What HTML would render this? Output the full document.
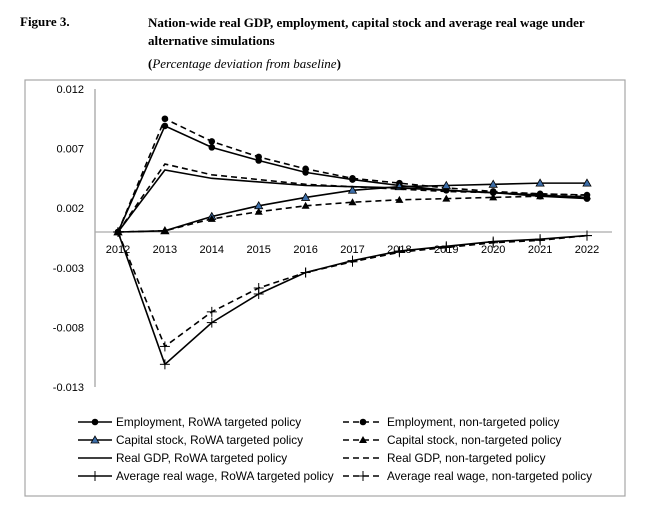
<!DOCTYPE html>
<html><head><meta charset="utf-8"><style>
body{margin:0;background:#fff;width:648px;height:509px;overflow:hidden;position:relative}
.t{position:absolute;font-family:"Liberation Serif",serif;font-size:13px;font-weight:bold;color:#000}
</style></head><body>
<div class="t" style="left:20px;top:14px">Figure 3.</div>
<div class="t" style="left:148px;top:14px;line-height:18px">Nation-wide real GDP, employment, capital stock and average real wage under<br>alternative simulations</div>
<div class="t" style="left:148px;top:56px">(<i style="font-weight:normal">Percentage deviation from baseline</i>)</div>
<svg id="c" width="648" height="509" style="position:absolute;left:0;top:0"></svg>
<script>
const years=[2012,2013,2014,2015,2016,2017,2018,2019,2020,2021,2022];
const yTicks=[0.012,0.007,0.002,-0.003,-0.008,-0.013];
const empT=[0,0.0089,0.0071,0.006,0.005,0.0044,0.0039,0.0035,0.0033,0.003,0.0028];
const empN=[0,0.0095,0.0076,0.0063,0.0053,0.0045,0.0041,0.0037,0.0034,0.0032,0.0031];
const capT=[0,0.0001,0.0013,0.0022,0.0029,0.0035,0.0038,0.0039,0.004,0.0041,0.0041];
const capN=[0,0.0001,0.0011,0.0017,0.0022,0.0025,0.0027,0.0028,0.0029,0.003,0.003];
const gdpT=[0,0.0052,0.0045,0.0042,0.0039,0.0038,0.0037,0.0035,0.0033,0.0031,0.0029];
const gdpN=[0,0.0057,0.0048,0.0044,0.004,0.0038,0.0036,0.0034,0.0033,0.0032,0.0031];
const wageT=[0,-0.0111,-0.0076,-0.0052,-0.0034,-0.0024,-0.0016,-0.0012,-0.0008,-0.0006,-0.0003];
const wageN=[0,-0.0096,-0.0067,-0.0047,-0.0034,-0.0025,-0.0017,-0.0013,-0.0009,-0.0007,-0.0003];
const legendLabels=["Employment, RoWA targeted policy","Capital stock, RoWA targeted policy","Real GDP, RoWA targeted policy","Average real wage, RoWA targeted policy","Employment, non-targeted policy","Capital stock, non-targeted policy","Real GDP, non-targeted policy","Average real wage, non-targeted policy"];
const svg=document.getElementById('c');const NS="http://www.w3.org/2000/svg";
function X(i){return 118+i*46.9}
function Y(v){return 232-v/0.005*59.6}
function mk(t,a,p){const e=document.createElementNS(NS,t);for(const k in a)e.setAttribute(k,a[k]);(p||svg).appendChild(e);return e}
const fr=mk('rect',{x:25,y:80,width:600,height:416,fill:'none',stroke:'#a6a6a6','stroke-width':1.2});


const ax=mk('line',{x1:95,y1:89,x2:95,y2:387,stroke:'#888'});


const zl=mk('line',{x1:95,y1:Y(0),x2:612,y2:Y(0),stroke:'#aaa','stroke-width':1.3});


yTicks.forEach(v=>{const t=mk('text',{x:84,y:Y(v)+4,'text-anchor':'end','font-family':'Liberation Sans, sans-serif','font-size':11});t.textContent=v.toFixed(3);

});
years.forEach((yr,i)=>{const t=mk('text',{x:X(i),y:Y(0)+21,'text-anchor':'middle','font-family':'Liberation Sans, sans-serif','font-size':11});t.textContent=yr;

});
function marker(g,type,x,y){
 if(type==='circle')mk('circle',{cx:x,cy:y,r:3.3,fill:'#000'},g);
 else if(type==='tri')mk('polygon',{points:`${x},${y-4} ${x-4},${y+3} ${x+4},${y+3}`,fill:'#000'},g);
 else if(type==='triB')mk('polygon',{points:`${x},${y-4} ${x-4},${y+3} ${x+4},${y+3}`,fill:'#3d6ea8',stroke:'#000','stroke-width':0.8},g);
 else if(type==='plus'){mk('line',{x1:x-5,y1:y,x2:x+5,y2:y,stroke:'#000'},g);mk('line',{x1:x,y1:y-5,x2:x,y2:y+5,stroke:'#000'},g);}
}
const series=[[empT,'','circle','employment-targeted'],[empN,'6,4','circle','employment-non-targeted'],[capT,'','triB','capital-targeted'],[capN,'6,4','tri','capital-non-targeted'],[gdpT,'','','gdp-targeted'],[gdpN,'6,4','','gdp-non-targeted'],[wageT,'','plus','wage-targeted'],[wageN,'6,4','plus','wage-non-targeted']];
series.forEach(s=>{const g=mk('g',{});


mk('polyline',{points:s[0].map((v,i)=>X(i)+','+Y(v)).join(' '),fill:'none',stroke:'#000','stroke-width':1.6,'stroke-dasharray':s[1]},g);
if(s[2])s[0].forEach((v,i)=>marker(g,s[2],X(i),Y(v)));});
const legTypes=[['','circle'],['','triB'],['',''],['','plus'],['6,4','circle'],['6,4','tri'],['6,4',''],['6,4','plus']];
legendLabels.forEach((lab,k)=>{const col=k<4?0:1,row=k%4;const y=422+row*18;const x0=col?343:78,x1=col?383:112;
const g=mk('g',{});


mk('line',{x1:x0,y1:y,x2:x1,y2:y,stroke:'#000','stroke-width':1.6,'stroke-dasharray':legTypes[k][0]},g);
if(legTypes[k][1])marker(g,legTypes[k][1],(x0+x1)/2,y);
const t=mk('text',{x:x1+4,y:y+4,'font-family':'Liberation Sans, sans-serif','font-size':11.8},g);t.textContent=lab;});
</script>
</body></html>
